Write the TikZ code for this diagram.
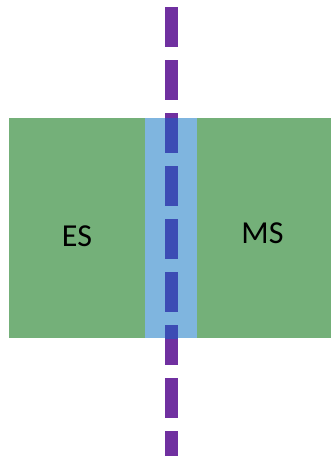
\documentclass[tikz,border=0pt]{standalone}
\usepackage{xcolor}
\usepackage{tikz}
\usepackage{fontspec}
\setmainfont{Carlito}
\definecolor{zonegreen}{RGB}{116, 176, 121}
\definecolor{bandblue}{RGB}{127, 181, 223}
\definecolor{cutpurple}{RGB}{112, 48, 160}
\definecolor{cutblue}{RGB}{60, 76, 180}

\begin{document}
\begin{tikzpicture}[x=1pt, y=-1pt]
\useasboundingbox (0,0) rectangle (331,456);

% Two regions
\fill[zonegreen] (9,118) rectangle (331,338);

% Interface band
\fill[bandblue] (145,118) rectangle (197,338);

% Dashed cut line
\draw[cutpurple, line width=13pt, dash pattern=on 40pt off 13pt] (171.5,7) -- (171.5,470);
\begin{scope}
\clip (145,118) rectangle (197,338);
\draw[cutblue, line width=13pt, dash pattern=on 40pt off 13pt] (171.5,7) -- (171.5,470);
\end{scope}

% Labels
\node[font=\fontsize{32}{36}\selectfont] (es) at (77,236) {ES};
\node[font=\fontsize{32}{36}\selectfont] (ms) at (262.5,233.5) {MS};
\end{tikzpicture}
\end{document}
